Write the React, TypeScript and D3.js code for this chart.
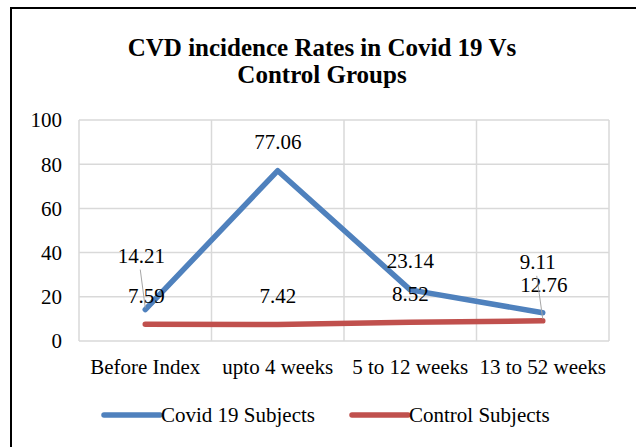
import React from 'react';
import * as d3 from 'd3';

const categories = ['Before Index', 'upto 4 weeks', '5 to 12 weeks', '13 to 52 weeks'];
const covidValues = [14.21, 77.06, 23.14, 12.76];
const controlValues = [7.59, 7.42, 8.52, 9.11];
const yTicks = [0, 20, 40, 60, 80, 100];
const seriesNames = ['Covid 19 Subjects', 'Control Subjects'];

// label offsets from the point (px), and whether a leader line is drawn
const covidLabelPos = [
  { dx: -4, dy: -54, leader: true },
  { dx: 0, dy: -29, leader: false },
  { dx: 0, dy: -29, leader: false },
  { dx: 1, dy: -28, leader: false },
];
const controlLabelPos = [
  { dx: 1, dy: -29, leader: false },
  { dx: 0, dy: -29, leader: false },
  { dx: 0, dy: -29, leader: false },
  { dx: -5, dy: -59, leader: true },
];

const width = 636;
const height = 447;
const margin = { top: 120, right: 27, bottom: 106, left: 79 };
const font = 'Liberation Serif';
const fs = 21;
const blue = '#4F81BD';
const red = '#C0504D';
const grid = '#d9d9d9';

export default function App() {
  const x = d3
    .scaleBand()
    .domain(categories)
    .range([margin.left, width - margin.right]);
  const y = d3
    .scaleLinear()
    .domain([0, 100])
    .range([height - margin.bottom, margin.top]);
  const cx = (c: string) => (x(c) as number) + x.bandwidth() / 2;

  const line = d3
    .line<number>()
    .x((_, i) => cx(categories[i]))
    .y((d) => y(d));

  const series = [
    { name: seriesNames[0], values: covidValues, color: blue, labels: covidLabelPos },
    { name: seriesNames[1], values: controlValues, color: red, labels: controlLabelPos },
  ];

  const vLines = categories.map((c) => x(c) as number).concat([width - margin.right]);

  return (
    <svg width={width} height={height} style={{ position: 'absolute', left: 0, top: 0, background: '#fff' }}>
      <rect x={11} y={8} width={640} height={460} fill="#fff" stroke="#000" strokeWidth={2} />
      <text x={322} y={47} textAnchor="middle" dy="0.35em" fontSize={25} fontWeight="bold" fontFamily={font}>
        CVD incidence Rates in Covid 19 Vs
      </text>
      <text x={322} y={74} textAnchor="middle" dy="0.35em" fontSize={25} fontWeight="bold" fontFamily={font}>
        Control Groups
      </text>

      {yTicks.map((t) => (
        <g key={t}>
          <line x1={margin.left} x2={width - margin.right} y1={y(t)} y2={y(t)} stroke={grid} strokeWidth={1.5} />
          <text x={62} y={y(t)} dy="0.35em" textAnchor="end" fontSize={fs} fontFamily={font}>
            {t}
          </text>
        </g>
      ))}
      {vLines.map((v, i) => (
        <line key={i} x1={v} x2={v} y1={y(0)} y2={y(100)} stroke={grid} strokeWidth={1.5} />
      ))}

      {categories.map((c) => (
        <text key={c} x={cx(c)} y={367} dy="0.35em" textAnchor="middle" fontSize={fs} fontFamily={font}>
          {c}
        </text>
      ))}

      {series.map((s) => (
        <path
          key={s.name}
          d={line(s.values) as string}
          fill="none"
          stroke={s.color}
          strokeWidth={5.5}
          strokeLinecap="round"
          strokeLinejoin="round"
        />
      ))}

      {series.map((s) =>
        s.values.map((v, i) => {
          const px = cx(categories[i]);
          const py = y(v);
          const p = s.labels[i];
          return (
            <g key={s.name + i}>
              {p.leader && (
                <line
                  x1={px + p.dx - 1}
                  y1={py + p.dy + 14}
                  x2={px}
                  y2={py - 2}
                  stroke="#a6a6a6"
                  strokeWidth={1}
                />
              )}
              <text x={px + p.dx} y={py + p.dy} dy="0.35em" textAnchor="middle" fontSize={fs} fontFamily={font}>
                {v.toFixed(2)}
              </text>
            </g>
          );
        })
      )}

      {series.map((s, i) => {
        const lx = i === 0 ? 104 : 352;
        return (
          <g key={s.name}>
            <line x1={lx} x2={lx + 56} y1={415} y2={415} stroke={s.color} strokeWidth={5.5} strokeLinecap="round" />
            <text x={lx + 57} y={415} dy="0.35em" fontSize={fs} fontFamily={font}>
              {s.name}
            </text>
          </g>
        );
      })}
    </svg>
  );
}
